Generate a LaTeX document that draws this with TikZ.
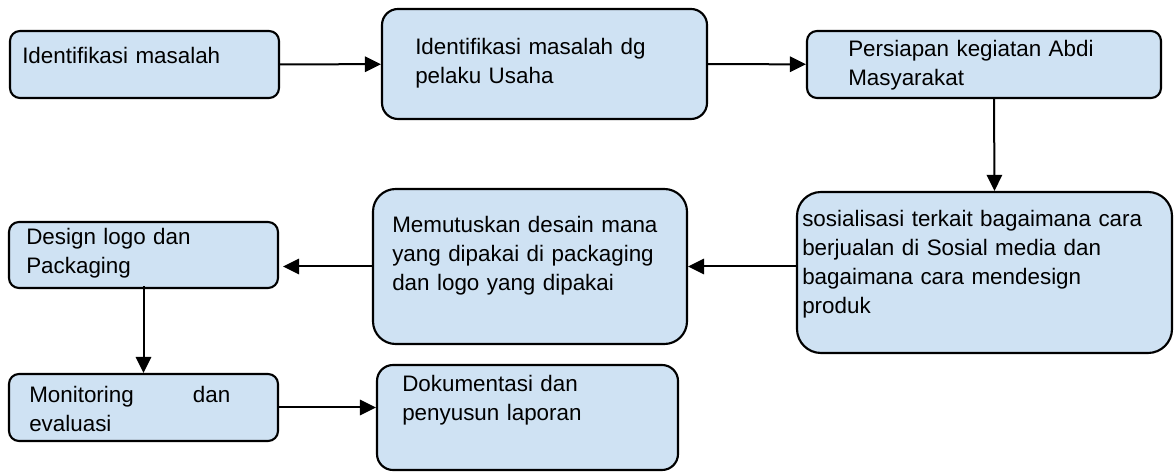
\documentclass[tikz,border=0pt]{standalone}
\usepackage{fontspec}
\setmainfont{Liberation Sans}
\usepackage{xcolor}
\usepackage{tikz}
\usetikzlibrary{
    calc,
    arrows.meta,
    positioning
}
\definecolor{boxblue}{HTML}{CFE2F3}
\tikzset{
    stepbox/.style={draw=black, fill=boxblue, line width=1.6pt, inner sep=0pt},
    steptext/.style={anchor=base west, inner sep=0pt, text width=300pt, align=left,
        font=\fontsize{16.8}{21.75}\selectfont},
    flow/.style={line width=1.5pt, -{Triangle[length=12pt,width=11.5pt]}}
}

\begin{document}
\begin{tikzpicture}[x=0.75pt, y=-0.75pt]
        \useasboundingbox (0,0) rectangle (1174,473);

        % boxes
        \node[stepbox, rounded corners=7.5pt, minimum width=201.75pt, minimum height=50.25pt] (b1) at (144.5,64.5) {};
        \node[stepbox, rounded corners=12pt, minimum width=243.75pt, minimum height=82.5pt] (b2) at (544.5,64) {};
        \node[stepbox, rounded corners=7.5pt, minimum width=265.5pt, minimum height=50.25pt] (b3) at (984,64.5) {};
        \node[stepbox, rounded corners=18pt, minimum width=281.25pt, minimum height=120.75pt] (b4) at (984.5,272.5) {};
        \node[stepbox, rounded corners=17pt, minimum width=235.5pt, minimum height=116.25pt] (b5) at (530,266.5) {};
        \node[stepbox, rounded corners=7.5pt, minimum width=201.75pt, minimum height=49.5pt] (b6) at (143.5,255) {};
        \node[stepbox, rounded corners=7.5pt, minimum width=201.75pt, minimum height=50.25pt] (b7) at (143.5,407.5) {};
        \node[stepbox, rounded corners=12pt, minimum width=225.75pt, minimum height=78.75pt] (b8) at (527.5,417.5) {};

        % texts
        \node[steptext] (t1) at (22,64) {Identifikasi masalah};
        \node[steptext] (t2) at (415,55) {Identifikasi masalah dg\\pelaku Usaha};
        \node[steptext] (t3) at (848,57) {Persiapan kegiatan Abdi\\Masyarakat};
        \node[steptext] (t4) at (802,227) {sosialisasi terkait bagaimana cara\\berjualan di Sosial media dan\\bagaimana cara mendesign\\produk};
        \node[steptext] (t5) at (392,233) {Memutuskan desain mana\\yang dipakai di packaging\\dan logo yang dipakai};
        \node[steptext] (t6) at (26,245) {Design logo dan\\Packaging};
        \node[steptext, text width=150.75pt] (t7) at (29,403) {Monitoring\hfill dan\\evaluasi};
        \node[steptext] (t8) at (402,392) {Dokumentasi dan\\penyusun laporan};

        % arrows
        \draw[flow] (b1) -- (b2);
        \draw[flow] (b2) -- (b3);
        \draw[flow] ([xshift=7.5pt]b3.south) -- ([xshift=7.5pt]b4.north);
        \draw[flow] (b4.west |- b5.east) -- (b5.east);
        \draw[flow, shorten >=3pt] (b5.west) -- (b6.east |- b5.west);
        \draw[flow] ([yshift=2pt]b6.south) -- (b7.north);
        \draw[flow] (b7.east) -- (b8.west |- b7.east);
    \end{tikzpicture}
\end{document}
